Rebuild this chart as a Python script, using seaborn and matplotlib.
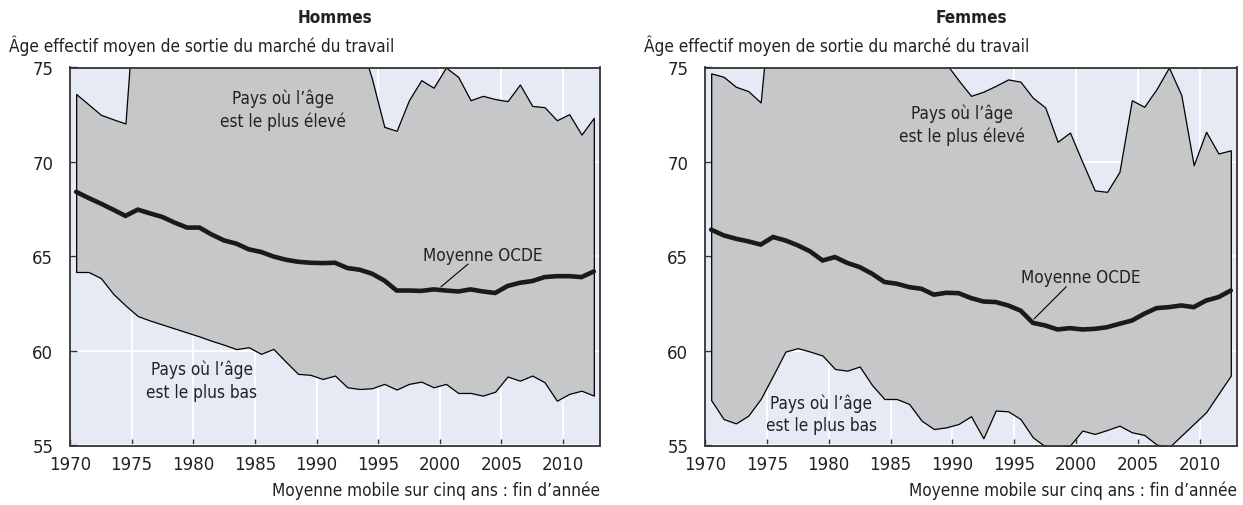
import numpy as np
import pandas as pd
import matplotlib
matplotlib.use("Agg")
import matplotlib.pyplot as plt
from matplotlib import font_manager
import seaborn as sns

# ---------------- data ----------------
annees = [1971, 1972, 1973, 1974, 1975, 1976, 1977, 1978, 1979, 1980,
          1981, 1982, 1983, 1984, 1985, 1986, 1987, 1988, 1989, 1990,
          1991, 1992, 1993, 1994, 1995, 1996, 1997, 1998, 1999, 2000,
          2001, 2002, 2003, 2004, 2005, 2006, 2007, 2008, 2009, 2010,
          2011, 2012, 2013]

hommes_haut = [73.6, 73.05, 72.5, 72.26, 72.04, 81.0, 80.5, 80.0, 79.5, 79.5,
               79.0, 79.0, 78.5, 78.5, 78.0, 78.0, 77.5, 77.5, 77.5, 77.0,
               77.0, 77.0, 77.0, 76.5, 74.4, 71.86, 71.65, 73.27, 74.33, 73.93,
               75.0, 74.5, 73.27, 73.5, 73.33, 73.22, 74.1, 72.97, 72.9, 72.21,
               72.53, 71.45, 72.34]
hommes_moy = [68.42, 68.1, 67.8, 67.48, 67.15, 67.48, 67.28, 67.09, 66.79, 66.53,
              66.53, 66.16, 65.85, 65.68, 65.38, 65.24, 65.0, 64.83, 64.72, 64.67,
              64.65, 64.67, 64.39, 64.3, 64.09, 63.73, 63.2, 63.2, 63.18, 63.26,
              63.2, 63.15, 63.26, 63.15, 63.07, 63.44, 63.61, 63.7, 63.91, 63.96,
              63.96, 63.91, 64.21]
hommes_bas = [64.18, 64.18, 63.86, 63.03, 62.41, 61.85, 61.61, 61.4, 61.19, 60.98,
              60.77, 60.54, 60.33, 60.1, 60.2, 59.85, 60.11, 59.44, 58.79, 58.74,
              58.52, 58.7, 58.08, 57.99, 58.03, 58.26, 57.96, 58.26, 58.38, 58.08,
              58.26, 57.78, 57.78, 57.64, 57.85, 58.65, 58.43, 58.7, 58.35, 57.37,
              57.73, 57.9, 57.64]

femmes_haut = [74.69, 74.51, 73.98, 73.75, 73.15, 80.0, 80.0, 79.5, 79.5, 79.0,
               79.0, 78.5, 78.5, 78.0, 78.0, 77.5, 77.5, 77.0, 76.5, 75.2,
               74.32, 73.5, 73.72, 74.03, 74.37, 74.25, 73.4, 72.89, 71.07, 71.56,
               70.0, 68.5, 68.42, 69.48, 73.27, 72.92, 73.86, 75.0, 73.54, 69.83,
               71.6, 70.45, 70.62]
femmes_moy = [66.42, 66.12, 65.94, 65.8, 65.63, 66.03, 65.85, 65.59, 65.27, 64.79,
              64.97, 64.66, 64.44, 64.09, 63.65, 63.56, 63.38, 63.29, 62.98, 63.08,
              63.06, 62.8, 62.62, 62.59, 62.41, 62.14, 61.49, 61.35, 61.14, 61.21,
              61.14, 61.17, 61.26, 61.44, 61.61, 61.97, 62.27, 62.32, 62.41, 62.32,
              62.67, 62.85, 63.2]
femmes_bas = [57.4, 56.4, 56.17, 56.58, 57.46, 58.7, 59.97, 60.15, 59.97, 59.76,
              59.05, 58.96, 59.18, 58.2, 57.46, 57.46, 57.2, 56.32, 55.87, 55.96,
              56.14, 56.55, 55.38, 56.85, 56.81, 56.4, 55.43, 54.95, 54.9, 55.0,
              55.79, 55.61, 55.82, 56.05, 55.7, 55.56, 55.05, 54.9, 55.52, 56.14,
              56.76, 57.73, 58.7]

ticks_x = [1970, 1975, 1980, 1985, 1990, 1995, 2000, 2005, 2010]
ticks_y = [55, 60, 65, 70, 75]

titres = ["Hommes", "Femmes"]
titre_axe = "Âge effectif moyen de sortie du marché du travail"
titre_x = "Moyenne mobile sur cinq ans : fin d’année"
lbl_haut = "Pays où l’âge\nest le plus élevé"
lbl_bas = "Pays où l’âge\nest le plus bas"
lbl_moy = "Moyenne OCDE"

# ---------------- style ----------------
sns.set_theme(style="white")
names = {f.name for f in font_manager.fontManager.ttflist}
if "Liberation Sans Narrow" in names:
    plt.rcParams["font.family"] = ["Liberation Sans Narrow", "DejaVu Sans"]
else:
    plt.rcParams["font.family"] = ["DejaVu Sans"]
    plt.rcParams["font.stretch"] = "condensed"

BG = "#e6eaf4"
FILL = "#c6c7c9"
DARK = "#222222"
FS = 12.3

W, H = 1243, 506
fig = plt.figure(figsize=(W / 100, H / 100), dpi=100)

panels = [
    dict(rect=[70 / W, (H - 446.5) / H, 530 / W, 378 / H],
         haut=hommes_haut, moy=hommes_moy, bas=hommes_bas,
         pos_haut=(1987.3, 72.8), pos_bas=(1980.7, 58.45),
         pos_moy=(2003.5, 65.1), lead=((2002.3, 64.6), (2000.1, 63.4))),
    dict(rect=[705 / W, (H - 446.5) / H, 532 / W, 378 / H],
         haut=femmes_haut, moy=femmes_moy, bas=femmes_bas,
         pos_haut=(1990.8, 72.0), pos_bas=(1979.4, 56.7),
         pos_moy=(2000.4, 63.9), lead=((1999.2, 63.4), (1996.6, 61.7))),
]

for i, p in enumerate(panels):
    ax = fig.add_axes(p["rect"])
    df = pd.DataFrame({"annee": np.array(annees) - 0.5,
                       "haut": p["haut"], "moy": p["moy"], "bas": p["bas"]})
    ax.set_facecolor(BG)
    ax.set_axisbelow(True)
    ax.grid(True, color="white", lw=1.3)
    ax.fill_between(df["annee"], df["bas"], df["haut"], facecolor=FILL,
                    edgecolor="black", linewidth=0.9, zorder=2)
    sns.lineplot(data=df, x="annee", y="moy", ax=ax, color="#1a1a1a",
                 lw=3.3, zorder=4, solid_joinstyle="miter")
    ax.set_xlim(1970, 2013)
    ax.set_ylim(55, 75)
    ax.set_xticks(ticks_x)
    ax.set_yticks(ticks_y)
    ax.set_xlabel("")
    ax.set_ylabel("")
    for s in ax.spines.values():
        s.set_color("#333333")
        s.set_linewidth(1.3)
        s.set_zorder(6)
    ax.tick_params(axis="both", direction="in", length=5, width=1,
                   color="#333333", labelsize=13.3, labelcolor=DARK)
    ax.tick_params(axis="y", pad=12, left=True)
    ax.tick_params(axis="x", pad=7, bottom=True)

    ax.text(*p["pos_haut"], lbl_haut, ha="center", va="center",
            fontsize=FS, color=DARK, linespacing=1.3, zorder=5)
    ax.text(*p["pos_bas"], lbl_bas, ha="center", va="center",
            fontsize=FS, color=DARK, linespacing=1.3, zorder=5)
    ax.text(*p["pos_moy"], lbl_moy, ha="center", va="center",
            fontsize=FS, color=DARK, zorder=5)
    (x0, y0), (x1, y1) = p["lead"]
    ax.plot([x0, x1], [y0, y1], color="black", lw=0.8, zorder=5)

    r = p["rect"]
    fig.text(r[0] + r[2] / 2, 1 - 18 / H, titres[i], ha="center",
             va="center", fontsize=12.3, fontweight="bold", color=DARK)
    fig.text(r[0] - 61 / W, 1 - 46 / H, titre_axe, ha="left",
             va="center", fontsize=FS, color=DARK)
    fig.text(r[0] + r[2], 1 - 491 / H, titre_x, ha="right",
             va="center", fontsize=FS, color=DARK)

fig.savefig("out.png", dpi=100)
